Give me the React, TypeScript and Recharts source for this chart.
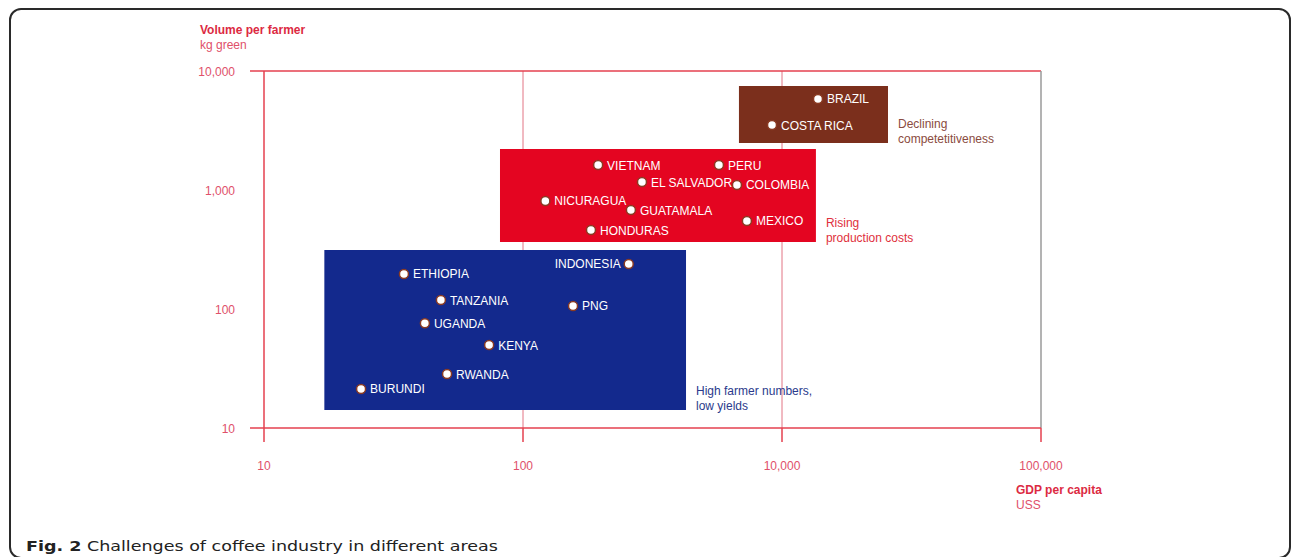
import { ScatterChart, Scatter, XAxis, YAxis, ReferenceArea, ReferenceLine, CartesianGrid } from 'recharts'

// countries and their position (GDP per capita, volume per farmer)
const countries = [
  'BRAZIL', 'COSTA RICA', 'VIETNAM', 'PERU', 'EL SALVADOR', 'COLOMBIA', 'NICURAGUA', 'GUATAMALA', 'MEXICO',
  'HONDURAS', 'INDONESIA', 'ETHIOPIA', 'TANZANIA', 'PNG', 'UGANDA', 'KENYA', 'RWANDA', 'BURUNDI'
]
const gdpPerCapita = [1377, 915, 195, 571, 288, 670, 122, 261, 732, 183, 256, 34.7, 48.2, 156, 41.8, 74, 50.9, 23.7]
const volumePerFarmer = [5821, 3516, 1622, 1622, 1167, 1102, 809, 679, 549, 461, 239, 197, 119, 106, 76, 49.8, 28.4, 21.3]

// the three coloured zones
const areaNotes = [
  ['Declining', 'competetitiveness'],
  ['Rising', 'production costs'],
  ['High farmer numbers,', 'low yields']
]
const areaGdpFrom = [682, 81.5, 17.1]
const areaGdpTo = [2566, 1352, 426]
const areaVolumeFrom = [2483, 366, 14.2]
const areaVolumeTo = [7482, 2213, 313]

const xTicks = [10, 100, 1000, 10000]
const xTickLabels = ['10', '100', '10,000', '100,000']
const yTicks = [10, 100, 1000, 10000]
const yTickLabels = ['10', '100', '1,000', '10,000']

const areaFills = ['#7b2f1c', '#e40521', '#13298d']
const noteColors = ['#8a4b40', '#e0303c', '#2b3a8c']
const lineRed = '#e5414f'
const tickRed = '#e0506a'
const font = '"Liberation Sans", Arial, sans-serif'
const leftLabels = ['INDONESIA']

const points = countries.map((name, i) => ({ name, gdp: gdpPerCapita[i], volume: volumePerFarmer[i] }))

const CountryDot = (props: any) => {
  const { cx, cy, payload } = props
  const onLeft = leftLabels.includes(payload.name)
  return (
    <g>
      <circle cx={cx} cy={cy} r={4.5} fill="#fff" stroke="#8a3a22" strokeWidth={1.5} />
      <text
        x={onLeft ? cx - 8 : cx + 9}
        y={cy + 4.5}
        textAnchor={onLeft ? 'end' : 'start'}
        fill="#fff"
        fontSize={12}
        fontFamily={font}>
        {payload.name}
      </text>
    </g>
  )
}

const AreaNote = (props: any) => {
  const { viewBox, lines, color } = props
  const x = viewBox.x + viewBox.width + 10
  const bottom = viewBox.y + viewBox.height
  return (
    <text fontSize={12} fontFamily={font} fill={color}>
      <tspan x={x} y={bottom - 15}>{lines[0]}</tspan>
      <tspan x={x} y={bottom}>{lines[1]}</tspan>
    </text>
  )
}

const XTick = (props: any) => {
  const { x, y, payload } = props
  return (
    <text x={x} y={y + 26} textAnchor="middle" fontSize={12} fontFamily={font} fill={tickRed}>
      {xTickLabels[xTicks.indexOf(payload.value)]}
    </text>
  )
}

const YTick = (props: any) => {
  const { x, y, payload } = props
  const edge = payload.value === yTicks[0] || payload.value === yTicks[yTicks.length - 1]
  return (
    <g>
      {edge && <line x1={x} x2={x + 14} y1={y} y2={y} stroke={lineRed} strokeWidth={1.5} />}
      <text x={x - 15} y={y + 4.5} textAnchor="end" fontSize={12} fontFamily={font} fill={tickRed}>
        {yTickLabels[yTicks.indexOf(payload.value)]}
      </text>
    </g>
  )
}

const App = () => {
  return (
    <div style={{ position: 'absolute', left: 0, top: 0, width: 1292, height: 557, overflow: 'hidden', background: '#fff' }}>
      <div style={{ position: 'absolute', left: 200, top: 23, fontFamily: font, fontSize: 12, lineHeight: '15px', color: '#dc2a42' }}>
        <div style={{ fontWeight: 'bold' }}>Volume per farmer</div>
        <div style={{ color: '#e0506a' }}>kg green</div>
      </div>
      <div style={{ position: 'absolute', left: 1016, top: 483, fontFamily: font, fontSize: 12, lineHeight: '15px', color: '#dc2a42' }}>
        <div style={{ fontWeight: 'bold' }}>GDP per capita</div>
        <div style={{ color: '#e0506a' }}>USS</div>
      </div>
      <div style={{
        position: 'absolute', left: 26, top: 539, fontFamily: '"DejaVu Sans", sans-serif', fontSize: 14,
        lineHeight: '14px', color: '#222', whiteSpace: 'nowrap', transform: 'scaleX(1.25)', transformOrigin: 'left top'
      }}>
        <b>Fig. 2</b> Challenges of coffee industry in different areas
      </div>
      <div style={{ position: 'absolute', left: 0, top: 0 }}>
        <ScatterChart width={1292} height={557} margin={{ top: 71, right: 251, bottom: 99, left: 204 }}>
          <CartesianGrid horizontal={false} verticalValues={[100, 1000]} stroke="#e27584" strokeWidth={1} />
          <XAxis
            type="number"
            dataKey="gdp"
            scale="log"
            domain={[10, 10000]}
            allowDataOverflow
            ticks={xTicks}
            height={30}
            axisLine={{ stroke: lineRed, strokeWidth: 1.5 }}
            tickLine={{ stroke: lineRed, strokeWidth: 1.5 }}
            tickSize={14}
            tick={<XTick />}
          />
          <YAxis
            type="number"
            dataKey="volume"
            scale="log"
            domain={[10, 10000]}
            allowDataOverflow
            ticks={yTicks}
            width={60}
            axisLine={{ stroke: lineRed, strokeWidth: 1.5 }}
            tickLine={false}
            tickSize={14}
            tickMargin={0}
            tick={<YTick />}
          />
          <ReferenceLine y={10000} stroke={lineRed} strokeWidth={1.5} />
          <ReferenceLine x={10000} stroke="#9a9a9a" strokeWidth={1.5} />
          {areaNotes.map((lines, i) => (
            <ReferenceArea
              key={lines[0]}
              x1={areaGdpFrom[i]}
              x2={areaGdpTo[i]}
              y1={areaVolumeFrom[i]}
              y2={areaVolumeTo[i]}
              fill={areaFills[i]}
              fillOpacity={1}
              stroke="none"
              label={<AreaNote lines={lines} color={noteColors[i]} />}
            />
          ))}
          <Scatter data={points} shape={<CountryDot />} isAnimationActive={false} />
        </ScatterChart>
      </div>
      <div style={{
        position: 'absolute', left: 9, top: 8, width: 1282, height: 551, pointerEvents: 'none',
        border: '2px solid #2a2a2a', borderRadius: 12, boxSizing: 'border-box'
      }} />
    </div>
  )
}

export default App
